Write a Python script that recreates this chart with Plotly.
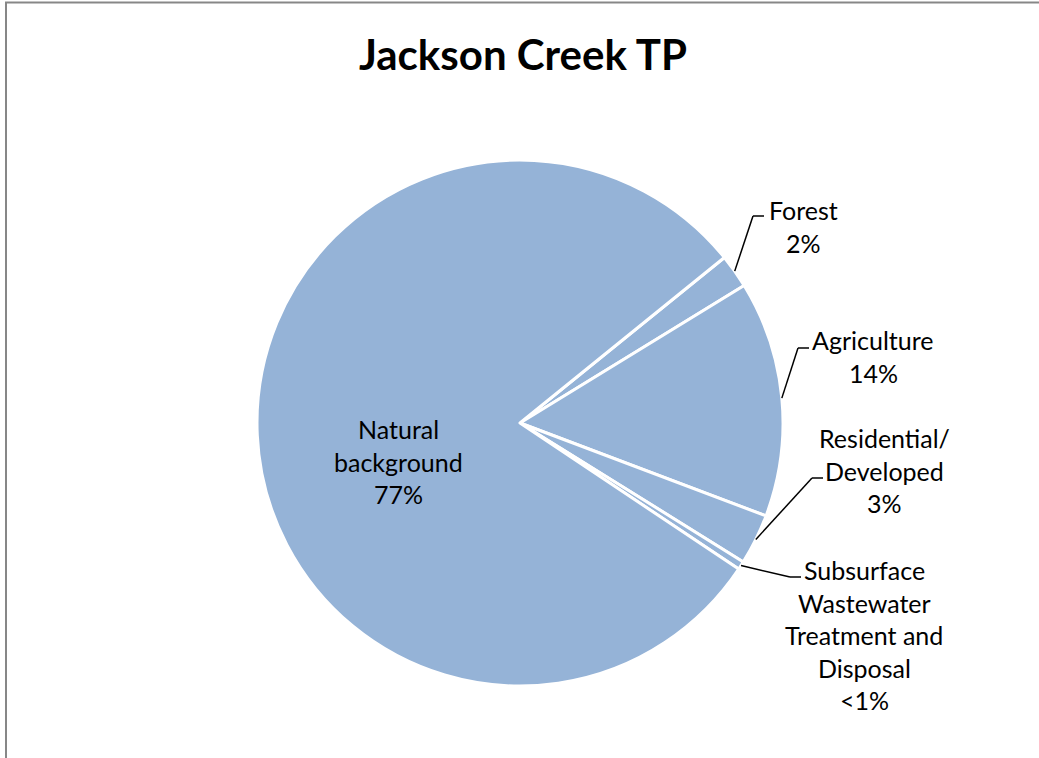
import math
import plotly.graph_objects as go

# Jackson Creek total phosphorus load by source
sources = ["Forest", "Agriculture", "Residential/ Developed",
           "Subsurface Wastewater Treatment and Disposal", "Natural background"]
shares = [2, 14, 3, 0.5, 77]          # percent of load (<1% shown as 0.5)
share_text = ["2%", "14%", "3%", "<1%", "77%"]
label_lines = [["Forest"], ["Agriculture"], ["Residential/", "Developed"],
               ["Subsurface", "Wastewater", "Treatment and", "Disposal"],
               ["Natural", "background"]]

W, H = 1039, 758
ML, MR, MT, MB = 257, 256, 160, 72
PW, PH = W - ML - MR, H - MT - MB
CX, CY = ML + PW / 2, MT + PH / 2
R = min(PW, PH) / 2
ROTATION = 51
FILL = "#95B3D7"
FONT = "Lato"


def to_paper(px, py):
    return (px - ML) / PW, 1 - (py - MT) / PH


fig = go.Figure(go.Pie(
    labels=sources,
    values=shares,
    sort=False,
    direction="clockwise",
    rotation=ROTATION,
    textinfo="none",
    hoverinfo="label+text",
    hovertext=share_text,
    marker=dict(colors=[FILL] * len(shares), line=dict(color="white", width=3)),
    showlegend=False,
))

# label block placement: (text centre x, first line centre y, elbow x, elbow y)
label_place = [
    (803, 210, 753, 216),
    (873, 340, 798, 348),
    (884, 438, 812, 478),
    (864, 570, 790, 577),
    (398, 429, None, None),
]
LINE_STEP = 32.5

annotations = []
shapes = []

# mid angle of each slice (clockwise from 12 o'clock)
total = sum(shares)
start = ROTATION
mids = []
for v in shares:
    span = v / total * 360
    mids.append(start + span / 2)
    start += span

for i, (tx, ty, ex, ey) in enumerate(label_place):
    lines = label_lines[i] + [share_text[i]]
    for k, line in enumerate(lines):
        x, y = to_paper(tx, ty + k * LINE_STEP)
        annotations.append(dict(
            x=x, y=y, xref="paper", yref="paper", text=line, showarrow=False,
            xanchor="center", yanchor="middle",
            font=dict(family=FONT, size=25, color="black"),
        ))
    if ex is not None:
        a = math.radians(mids[i])
        sx, sy = CX + R * math.sin(a), CY - R * math.cos(a)
        x0, y0 = to_paper(sx, sy)
        x1, y1 = to_paper(ex, ey)
        x2, _ = to_paper(ex + 11, ey)
        for (ax, ay, bx, by) in [(x0, y0, x1, y1), (x1, y1, x2, y1)]:
            shapes.append(dict(type="line", xref="paper", yref="paper",
                               x0=ax, y0=ay, x1=bx, y1=by,
                               line=dict(color="black", width=1.5)))

# chart title
tx, ty = to_paper(523, 54)
annotations.append(dict(
    x=tx, y=ty, xref="paper", yref="paper", text="<b>Jackson Creek TP</b>",
    showarrow=False, xanchor="center", yanchor="middle",
    font=dict(family=FONT, size=42, color="black"),
))

# chart area frame
fx0, fy0 = to_paper(6, 2.5)
fx1, fy1 = to_paper(W + 20, H + 20)
shapes.append(dict(type="rect", xref="paper", yref="paper",
                   x0=fx0, y0=fy0, x1=fx1, y1=fy1,
                   line=dict(color="#878787", width=2), layer="below"))

fig.update_layout(
    width=W, height=H,
    margin=dict(l=ML, r=MR, t=MT, b=MB),
    paper_bgcolor="white", plot_bgcolor="white",
    annotations=annotations, shapes=shapes,
)

fig.write_html("out.html")
